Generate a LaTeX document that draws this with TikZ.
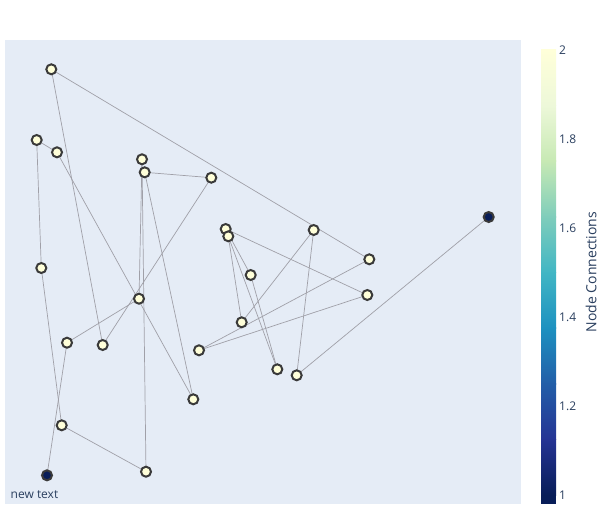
\documentclass[tikz,border=0pt]{standalone}
\usepackage{fontspec}
\setmainfont{Open Sans}
\usetikzlibrary{backgrounds}
\definecolor{plotbg}{RGB}{229,236,246}
\definecolor{txt}{RGB}{42,63,95}
\definecolor{edgecol}{RGB}{160,160,168}
\definecolor{nodeline}{RGB}{58,58,58}
\definecolor{clight}{RGB}{255,255,217}
\definecolor{cdark}{RGB}{8,29,88}
\definecolor{cs0}{RGB}{255,255,217}
\definecolor{cs1}{RGB}{237,248,217}
\definecolor{cs2}{RGB}{199,233,180}
\definecolor{cs3}{RGB}{127,205,187}
\definecolor{cs4}{RGB}{65,182,196}
\definecolor{cs5}{RGB}{29,145,192}
\definecolor{cs6}{RGB}{34,94,168}
\definecolor{cs7}{RGB}{37,52,148}
\definecolor{cs8}{RGB}{8,29,88}
\tikzset{
  gnode/.style={circle, draw=nodeline, line width=2pt, minimum size=10pt, inner sep=0pt},
  lnode/.style={gnode, fill=clight},
  dnode/.style={gnode, fill=cdark},
  edge/.style={draw=edgecol, line width=0.7pt},
  ticklab/.style={anchor=west, inner sep=0pt, text=txt, font=\fontsize{12}{14}\selectfont},
}
\begin{document}
\begin{tikzpicture}[x=1pt,y=-1pt]
\useasboundingbox (0,0) rectangle (613,525);
% nodes
\node[lnode] (A) at (51.3,69.3) {};
\node[lnode] (B) at (36.7,140) {};
\node[lnode] (C) at (57,152.3) {};
\node[lnode] (D) at (142,159.3) {};
\node[lnode] (E) at (144.7,172.3) {};
\node[lnode] (F) at (211.3,177.7) {};
\node[lnode] (G) at (225.7,229) {};
\node[lnode] (H) at (228.3,236.3) {};
\node[lnode] (I) at (41.3,268) {};
\node[lnode] (J) at (250.7,275) {};
\node[lnode] (K) at (139,298.7) {};
\node[lnode] (L) at (67,342.7) {};
\node[lnode] (M) at (102.7,345) {};
\node[lnode] (N) at (199,350.3) {};
\node[lnode] (O) at (241.7,322.3) {};
\node[lnode] (P) at (193.3,399.3) {};
\node[lnode] (Q) at (61.7,425.3) {};
\node[lnode] (R) at (146,471.7) {};
\node[dnode] (S) at (47,475.3) {};
\node[lnode] (T) at (313.7,230) {};
\node[lnode] (U) at (369.3,259.3) {};
\node[lnode] (V) at (367.3,295) {};
\node[dnode] (W) at (488.7,217) {};
\node[lnode] (X) at (277.3,369.3) {};
\node[lnode] (Y) at (296.7,375.3) {};
\begin{pgfonlayer}{background}
  \fill[white] (0,0) rectangle (613,525);
  \fill[plotbg] (5,40) rectangle (521,504);
  \foreach \a/\b in {A/M, A/U, B/C, B/I, C/P, D/K, D/R, E/F, E/P, K/L, L/S, F/M,
                     I/Q, Q/R, U/N, V/N, W/Y, Y/T, T/O, J/X, G/V, G/J, H/X, H/O}
    \draw[edge] (\a.center) -- (\b.center);
\end{pgfonlayer}
% colorbar
\foreach \i/\ta/\tb in {0/cs0/cs1, 1/cs1/cs2, 2/cs2/cs3, 3/cs3/cs4, 4/cs4/cs5, 5/cs5/cs6, 6/cs6/cs7, 7/cs7/cs8}
  \shade[top color=\ta, bottom color=\tb] (541,{50+\i*55.625-0.3}) rectangle (556,{50+(\i+1)*55.625+0.3});
\fill[cs8] (541,495) rectangle (556,504);
\node[ticklab] (t2) at (559,50) {2};
\node[ticklab] (t18) at (559,139) {1.8};
\node[ticklab] (t16) at (559,228) {1.6};
\node[ticklab] (t14) at (559,317) {1.4};
\node[ticklab] (t12) at (559,406) {1.2};
\node[ticklab] (t1) at (559,495) {1};
\node[rotate=90, inner sep=0pt, text=txt, font=\fontsize{14}{16}\selectfont] (title) at (591,272) {Node Connections};
\node[anchor=west, inner sep=0pt, text=txt, font=\fontsize{12}{14}\selectfont] (nt) at (10.5,495) {new text};
\end{tikzpicture}
\end{document}
